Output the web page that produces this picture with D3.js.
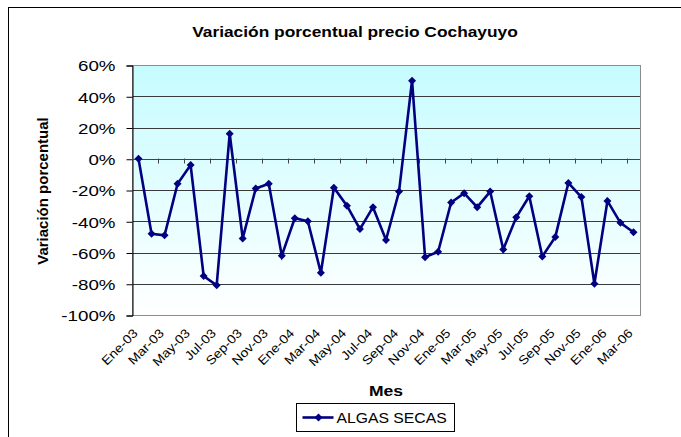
<!DOCTYPE html>
<html>
<head>
<meta charset="utf-8">
<script src="https://cdn.jsdelivr.net/npm/d3@7"></script>
<style>
  body { margin: 0; background: #fff; }
  text { font-family: Arial, "Liberation Sans", sans-serif; }
</style>
</head>
<body>
<div id="chart"></div>
<script>
// data
let months = ["Ene-03","Feb-03","Mar-03","Abr-03","May-03","Jun-03","Jul-03","Ago-03","Sep-03","Oct-03","Nov-03","Dic-03",
              "Ene-04","Feb-04","Mar-04","Abr-04","May-04","Jun-04","Jul-04","Ago-04","Sep-04","Oct-04","Nov-04","Dic-04",
              "Ene-05","Feb-05","Mar-05","Abr-05","May-05","Jun-05","Jul-05","Ago-05","Sep-05","Oct-05","Nov-05","Dic-05",
              "Ene-06","Feb-06","Mar-06"]
let algasSecas = [0, -48, -49, -16, -4, -75, -81, 16, -51, -19, -16, -62,
                  -38, -40, -73, -18.5, -30, -45, -31, -52, -21, 50, -63, -59.5,
                  -28, -22, -31, -21, -58, -37.5, -24, -62.5, -50, -15.5, -24.5, -80,
                  -27, -41, -47]
let yTicks = [60, 40, 20, 0, -20, -40, -60, -80, -100]
let seriesName = "ALGAS SECAS"

let svgWidth = 681
let svgHeight = 437
let plot = { left: 132, right: 640, top: 65, bottom: 315 }

let svg = d3.select("#chart")
    .append("svg")
    .attr("width", svgWidth)
    .attr("height", svgHeight);

// outer chart frame (runs past the picture on the right and bottom)
svg.append("rect")
    .attr("x", 8.5).attr("y", 7.5)
    .attr("width", 720).attr("height", 480)
    .attr("fill", "#fff")
    .attr("stroke", "#000");

// background gradient of the plot area
let grad = svg.append("defs").append("linearGradient")
    .attr("id", "bg").attr("x1", 0).attr("y1", 0).attr("x2", 0).attr("y2", 1);
grad.append("stop").attr("offset", "0%").attr("stop-color", "#c6fcff");
grad.append("stop").attr("offset", "100%").attr("stop-color", "#ffffff");

let x = d3.scaleBand()
    .domain(months)
    .range([plot.left, plot.right]);

let y = d3.scaleLinear()
    .domain([-100, 60])
    .range([plot.bottom, plot.top]);

svg.append("rect")
    .attr("x", plot.left).attr("y", plot.top)
    .attr("width", plot.right - plot.left).attr("height", plot.bottom - plot.top)
    .attr("fill", "url(#bg)");

// gridlines
svg.append("g")
    .selectAll("line")
    .data(yTicks.filter(d => d != 60 && d != -100))
    .enter()
    .append("line")
    .attr("x1", plot.left).attr("x2", plot.right)
    .attr("y1", d => Math.round(y(d)) + 0.5)
    .attr("y2", d => Math.round(y(d)) + 0.5)
    .attr("stroke", "#3a3a3a")
    .attr("stroke-width", 1);

// plot border
svg.append("rect")
    .attr("x", plot.left + 0.5).attr("y", plot.top + 0.5)
    .attr("width", plot.right - plot.left).attr("height", plot.bottom - plot.top)
    .attr("fill", "none")
    .attr("stroke", "#8c8c8c");

// y axis
let leftAxis = d3.axisLeft(y)
    .tickValues(yTicks)
    .tickSize(6)
    .tickFormat(d => d + "%");

let yAxis = svg.append("g")
    .attr("transform", `translate(${plot.left + 0.5}, 0.5)`)
    .call(leftAxis);
yAxis.select(".domain").attr("stroke", "#000");
yAxis.selectAll(".tick line").attr("stroke", "#000");
yAxis.selectAll(".tick text")
    .attr("x", null)
    .attr("dy", "0.36em")
    .attr("transform", "translate(-17,0) scale(1.25,1)")
    .style("font-size", "15px")
    .attr("fill", "#000");

// category axis on the 0% line
let zeroY = Math.round(y(0)) + 0.5;
svg.append("line")
    .attr("x1", plot.left).attr("x2", plot.right)
    .attr("y1", zeroY).attr("y2", zeroY)
    .attr("stroke", "#444");
svg.append("g")
    .selectAll("line")
    .data(months.filter((d, i) => i % 2 == 0 && i > 0))
    .enter()
    .append("line")
    .attr("x1", d => Math.round(x(d)) + 0.5)
    .attr("x2", d => Math.round(x(d)) + 0.5)
    .attr("y1", zeroY - 1).attr("y2", zeroY + 4)
    .attr("stroke", "#444");

// rotated month labels below the plot
svg.append("g")
    .selectAll("text")
    .data(months.filter((d, i) => i % 2 == 0))
    .enter()
    .append("text")
    .attr("transform", d => `translate(${x(d) + x.bandwidth() / 2 - 3}, 331) rotate(-45) scale(1.12,1)`)
    .attr("text-anchor", "end")
    .attr("dy", "0.35em")
    .style("font-size", "12.5px")
    .text(d => d);

// series line + diamond markers
let line = d3.line()
    .x((d, i) => x(months[i]) + x.bandwidth() / 2)
    .y(d => y(d));

svg.append("path")
    .datum(algasSecas)
    .attr("d", line)
    .attr("fill", "none")
    .attr("stroke", "#000080")
    .attr("stroke-width", 2.6)
    .attr("stroke-linejoin", "miter");

let diamond = d3.symbol().type(d3.symbolSquare).size(32);
svg.append("g")
    .selectAll("path")
    .data(algasSecas)
    .enter()
    .append("path")
    .attr("d", diamond)
    .attr("transform", (d, i) => `translate(${x(months[i]) + x.bandwidth() / 2}, ${y(d)}) rotate(45)`)
    .attr("fill", "#000080");

// titles
svg.append("text")
    .attr("transform", "translate(355, 37) scale(1.24,1)")
    .attr("text-anchor", "middle")
    .style("font-size", "14px")
    .style("font-weight", "bold")
    .text("Variación porcentual precio Cochayuyo");

svg.append("text")
    .attr("transform", "translate(48, 191) rotate(-90)")
    .attr("text-anchor", "middle")
    .style("font-size", "15px")
    .style("font-weight", "bold")
    .text("Variación porcentual");

svg.append("text")
    .attr("transform", "translate(386, 396) scale(1.17,1)")
    .attr("text-anchor", "middle")
    .style("font-size", "15px")
    .style("font-weight", "bold")
    .text("Mes");

// legend
let legend = svg.append("g").attr("transform", "translate(296.5, 403.5)");
legend.append("rect")
    .attr("width", 158).attr("height", 28)
    .attr("fill", "#fff")
    .attr("stroke", "#000");
legend.append("line")
    .attr("x1", 6).attr("x2", 37).attr("y1", 14).attr("y2", 14)
    .attr("stroke", "#000080").attr("stroke-width", 2.6);
legend.append("path")
    .attr("d", diamond)
    .attr("transform", "translate(22, 14) rotate(45)")
    .attr("fill", "#000080");
legend.append("text")
    .attr("transform", "translate(40, 19) scale(1.05,1)")
    .style("font-size", "15px")
    .text(seriesName);
</script>
</body>
</html>
